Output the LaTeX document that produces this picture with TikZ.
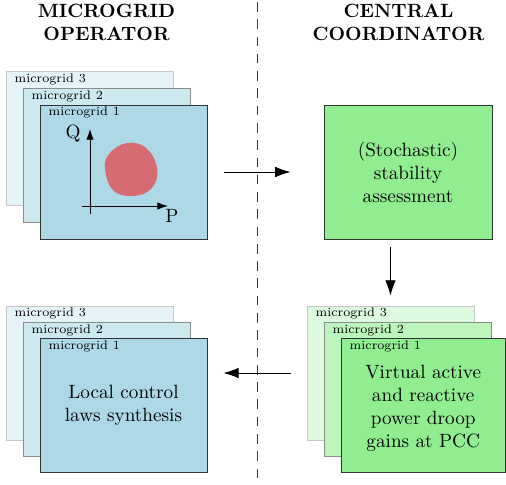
\documentclass[tikz,border=0pt]{standalone}
\usetikzlibrary{arrows.meta}
\definecolor{lblue}{RGB}{173,216,230}
\definecolor{lgreen}{RGB}{144,238,144}
\begin{document}
\begin{tikzpicture}[x=0.5208pt,y=-0.5208pt,
  card/.style={draw, minimum width=87pt, minimum height=69.8pt, inner sep=0pt, align=center, font=\normalsize},
  blue1/.style={card, fill=lblue, draw=black!80},
  blue2/.style={card, fill=lblue!60, draw=black!45},
  blue3/.style={card, fill=lblue!30, draw=black!22},
  green1/.style={card, fill=lgreen, draw=black!80},
  green2/.style={card, fill=lgreen!60, draw=black!45},
  green3/.style={card, fill=lgreen!30, draw=black!22},
  mglabel/.style={anchor=north west, font=\fontsize{6.5}{8}\selectfont, inner xsep=4.5pt, inner ysep=1pt},
  header/.style={font=\bfseries, align=center},
  bigarr/.style={-{Latex[length=8pt,width=5.5pt]}, line width=0.5pt},
  axarr/.style={-{Latex[length=5.5pt,width=3.8pt]}, line width=0.5pt},
  divider/.style={dash pattern=on 5pt off 4pt, line width=0.5pt, draw=black!80}]
\useasboundingbox (0,0) rectangle (506,485);

% headers
\node[header] (hL) at (106.5,22.5) {MICROGRID\\OPERATOR};
\node[header] (hR) at (398.5,22.5) {CENTRAL\\COORDINATOR};

% divider
\coordinate (dtop) at (257.5,2);
\coordinate (dbot) at (257.5,485);
\draw[divider] (dtop) -- (dbot);

% top-left stack
\node[blue3] (A3) at (89.5,138.5) {};
\node[mglabel] (A3l) at (A3.north west) {microgrid 3};
\node[blue2] (A2) at (106.5,155.5) {};
\node[mglabel] (A2l) at (A2.north west) {microgrid 2};
\node[blue1] (A1) at (123.5,172) {};
\node[mglabel] (A1l) at (A1.north west) {microgrid 1};

% PQ diagram
\fill[red, fill opacity=0.5] plot[smooth cycle, tension=0.7] coordinates
  {(105,168) (110,153) (127,143) (146,148) (157,168) (152,188) (133,196) (113,190)};
\coordinate (qbot) at (90,214);
\coordinate (qtop) at (90,129);
\coordinate (pl) at (82,206);
\coordinate (pr) at (168,206);
\draw[axarr] (qbot) -- (qtop);
\draw[axarr] (pl) -- (pr);
\node (Q) at (73,134) {Q};
\node (P) at (172,216) {P};

% central box
\node[green1, minimum width=87.5pt] (C) at (408,172) {(Stochastic)\\stability\\assessment};

% bottom-left stack
\node[blue3] (L3) at (89.5,373) {};
\node[mglabel] (L3l) at (L3.north west) {microgrid 3};
\node[blue2] (L2) at (106.5,389.5) {};
\node[mglabel] (L2l) at (L2.north west) {microgrid 2};
\node[blue1] (L1) at (123.5,405.5) {Local control\\laws synthesis};
\node[mglabel] (L1l) at (L1.north west) {microgrid 1};

% bottom-right stack
\node[green3] (G3) at (390.5,373) {};
\node[mglabel] (G3l) at (G3.north west) {microgrid 3};
\node[green2] (G2) at (407.5,389.5) {};
\node[mglabel] (G2l) at (G2.north west) {microgrid 2};
\node[green1, minimum width=85.6pt] (G1) at (423.2,405.5) {\\[-2pt]Virtual active\\and reactive\\power droop\\gains at PCC};
\node[mglabel] (G1l) at (G1.north west) {microgrid 1};

% connectors
\draw[bigarr, shorten <=8.85pt, shorten >=17.2pt] (A1.east) -- (C.west);
\draw[bigarr, shorten <=4.2pt, shorten >=5.2pt] (G3.north |- C.south) -- (G3.north);
\draw[bigarr, shorten <=8.3pt, shorten >=8.3pt] (G3.west) -- (L1.east |- G3.west);
\end{tikzpicture}
\end{document}
